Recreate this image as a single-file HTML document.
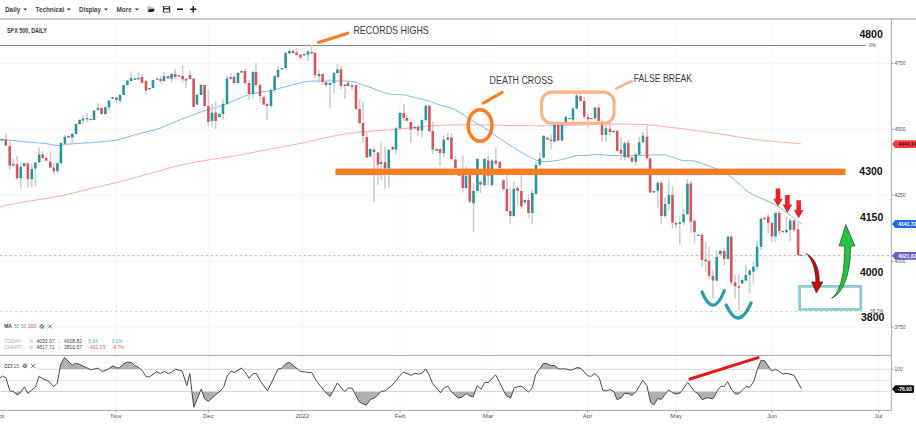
<!DOCTYPE html><html><head><meta charset="utf-8"><style>
html,body{margin:0;padding:0;background:#fff;width:916px;height:425px;overflow:hidden}
svg{position:absolute;left:0;top:0;font-family:"Liberation Sans", sans-serif}
</style></head><body>
<svg width="916" height="425" viewBox="0 0 916 425">
<text x="5" y="12.3" font-size="8" font-weight="bold" fill="#3f3f47" textLength="15.2" lengthAdjust="spacingAndGlyphs">Daily</text>
<path d="M23.2,8.5 L27.2,8.5 L25.2,10.6 Z" fill="#333"/>
<text x="35.5" y="12.3" font-size="8" font-weight="bold" fill="#3f3f47" textLength="28.7" lengthAdjust="spacingAndGlyphs">Technical</text>
<path d="M66.8,8.5 L70.8,8.5 L68.8,10.6 Z" fill="#333"/>
<text x="79" y="12.3" font-size="8" font-weight="bold" fill="#3f3f47" textLength="21.9" lengthAdjust="spacingAndGlyphs">Display</text>
<path d="M104.0,8.5 L108.0,8.5 L106.0,10.6 Z" fill="#333"/>
<text x="116.5" y="12.3" font-size="8" font-weight="bold" fill="#3f3f47" textLength="15.3" lengthAdjust="spacingAndGlyphs">More</text>
<path d="M134.9,8.5 L138.9,8.5 L136.9,10.6 Z" fill="#333"/>
<path d="M147.3,6.4 L150.2,6.4 L151,7.3 L153.6,7.3 L153.6,8.6 L149.2,8.6 L147.3,11.9 Z" fill="#bbb"/><path d="M149.3,8.7 L155,8.7 L153.3,11.9 L147.6,11.9 Z" fill="#2a2a2a"/>
<path d="M162.9,6.1 L169.4,6.1 L170.2,6.9 L170.2,12.5 L162.9,12.5 Z M164.4,6.4 L164.4,7.9 L168.6,7.9 L168.6,6.4 Z M164,9.4 L164,11.8 L169.1,11.8 L169.1,9.4 Z" fill="#333" fill-rule="evenodd"/>
<rect x="177" y="8.5" width="6" height="1.5" fill="#111"/>
<rect x="190.1" y="8.5" width="6.3" height="1.5" fill="#111"/><rect x="192.5" y="6.1" width="1.5" height="6.3" fill="#111"/>
<rect x="0" y="18.1" width="916" height="1.8" fill="#c6c6c6"/>
<line x1="116.5" y1="21" x2="116.5" y2="410" stroke="#f6f6f8" stroke-width="1"/>
<line x1="208.4" y1="21" x2="208.4" y2="410" stroke="#f6f6f8" stroke-width="1"/>
<line x1="302.3" y1="21" x2="302.3" y2="410" stroke="#f6f6f8" stroke-width="1"/>
<line x1="400" y1="21" x2="400" y2="410" stroke="#f6f6f8" stroke-width="1"/>
<line x1="488.1" y1="21" x2="488.1" y2="410" stroke="#f6f6f8" stroke-width="1"/>
<line x1="587.5" y1="21" x2="587.5" y2="410" stroke="#f6f6f8" stroke-width="1"/>
<line x1="676.2" y1="21" x2="676.2" y2="410" stroke="#f6f6f8" stroke-width="1"/>
<line x1="771.9" y1="21" x2="771.9" y2="410" stroke="#f6f6f8" stroke-width="1"/>
<line x1="878.7" y1="21" x2="878.7" y2="410" stroke="#f6f6f8" stroke-width="1"/>
<line x1="0" y1="63.4" x2="891" y2="63.4" stroke="#f5f5f7" stroke-width="1"/>
<line x1="0" y1="129.3" x2="891" y2="129.3" stroke="#f5f5f7" stroke-width="1"/>
<line x1="0" y1="195.2" x2="891" y2="195.2" stroke="#f5f5f7" stroke-width="1"/>
<line x1="0" y1="261.4" x2="891" y2="261.4" stroke="#f5f5f7" stroke-width="1"/>
<line x1="0" y1="327.2" x2="891" y2="327.2" stroke="#f5f5f7" stroke-width="1"/>
<text x="7" y="32.8" font-size="6.4" font-weight="bold" fill="#3a3a3a" textLength="39.8" lengthAdjust="spacingAndGlyphs">SPX 500, DAILY</text>
<line x1="0" y1="45.5" x2="866" y2="45.5" stroke="#858585" stroke-width="1"/>
<text x="869" y="46.8" font-size="4.8" fill="#555">0%</text>
<line x1="0" y1="311.4" x2="866" y2="311.4" stroke="#c8c8c8" stroke-width="0.8" stroke-dasharray="2.5,2.5"/>
<text x="870" y="312.8" font-size="4.8" fill="#555" textLength="13.5" lengthAdjust="spacingAndGlyphs">38.2%</text>
<line x1="0" y1="255.6" x2="891" y2="255.6" stroke="#b0a9e4" stroke-width="0.9" stroke-dasharray="2.2,2.7"/>
<path d="M0.0,206.6 C5.1,205.6 20.4,202.6 30.6,200.8 C40.8,199.0 51.0,198.0 61.2,195.9 C71.4,193.8 81.9,190.6 91.7,188.2 C101.5,185.8 110.2,184.2 120.0,181.7 C129.8,179.2 140.4,176.1 150.6,173.3 C160.8,170.5 171.0,167.2 181.2,164.9 C191.4,162.6 201.9,161.1 211.7,159.4 C221.5,157.8 230.2,156.8 240.0,155.0 C249.8,153.2 260.4,150.8 270.6,148.9 C280.8,147.0 291.0,145.4 301.2,143.3 C311.4,141.2 321.9,138.3 331.7,136.4 C341.5,134.5 349.0,133.3 360.0,132.1 C371.0,130.9 385.4,130.3 397.6,129.2 C409.8,128.1 420.9,126.3 433.0,125.6 C445.1,124.9 456.8,124.8 470.0,124.8 C483.2,124.8 499.0,125.3 512.3,125.5 C525.6,125.7 534.3,126.0 550.0,125.8 C565.7,125.6 593.4,124.5 606.4,124.2 C619.4,123.9 621.5,124.1 628.2,124.2 C634.9,124.3 640.4,124.2 646.8,124.7 C653.2,125.2 659.2,126.1 666.4,126.9 C673.6,127.7 683.9,128.9 690.0,129.7 C696.1,130.5 696.9,130.6 702.9,131.5 C708.9,132.4 718.2,133.7 725.9,134.9 C733.5,136.1 741.2,137.6 748.8,138.7 C756.4,139.8 763.1,140.5 771.7,141.3 C780.4,142.1 795.9,143.3 800.7,143.7" fill="none" stroke="#f8aea9" stroke-width="1"/>
<path d="M0.0,139.8 C1.4,139.8 4.3,139.6 8.7,140.0 C13.1,140.4 20.4,141.4 26.2,142.0 C32.0,142.6 38.4,142.7 43.7,143.3 C49.0,143.9 54.4,145.3 58.0,145.5 C61.6,145.7 61.8,144.8 65.5,144.4 C69.2,144.0 74.0,143.7 80.0,143.3 C86.0,142.9 95.0,142.4 101.2,141.8 C107.4,141.2 111.7,141.1 117.0,140.0 C122.3,138.9 127.6,136.9 132.9,135.4 C138.2,133.9 144.3,132.4 148.8,131.2 C153.3,130.0 154.6,130.3 160.0,128.3 C165.4,126.3 174.1,122.2 181.2,119.4 C188.2,116.6 195.2,113.9 202.3,111.5 C209.4,109.1 217.2,107.3 223.5,105.1 C229.8,102.8 235.5,99.8 240.0,98.0 C244.5,96.2 247.1,95.3 250.6,94.3 C254.1,93.3 257.7,92.8 261.2,92.2 C264.7,91.6 268.2,91.4 271.7,90.6 C275.2,89.8 278.8,88.5 282.3,87.5 C285.8,86.5 289.4,85.7 292.9,84.8 C296.4,83.9 300.0,82.8 303.5,82.2 C307.0,81.6 308.7,81.3 314.1,81.1 C319.5,80.9 329.6,80.9 335.9,80.9 C342.2,81.0 347.3,80.8 351.7,81.4 C356.1,82.0 358.8,83.4 362.3,84.6 C365.8,85.8 369.4,87.0 372.9,88.3 C376.4,89.6 380.0,91.5 383.5,92.5 C387.0,93.5 390.8,94.2 394.1,94.6 C397.4,95.0 400.8,94.4 403.5,94.7 C406.2,95.0 407.9,95.8 410.6,96.5 C413.4,97.2 416.9,98.0 420.0,98.8 C423.1,99.6 426.3,100.2 429.4,101.2 C432.5,102.2 435.3,103.6 438.8,104.7 C442.3,105.8 447.1,106.7 450.6,108.0 C454.1,109.3 456.8,110.7 460.0,112.6 C463.2,114.5 466.0,116.7 470.0,119.2 C474.0,121.7 479.4,124.5 484.1,127.6 C488.8,130.7 493.5,134.3 498.2,137.5 C502.9,140.7 507.6,143.8 512.3,146.7 C517.0,149.6 522.4,153.0 526.4,155.2 C530.4,157.4 533.5,159.0 536.3,160.1 C539.1,161.2 541.1,161.3 543.4,161.5 C545.7,161.7 547.3,161.6 550.0,161.3 C552.7,161.1 556.5,160.7 559.8,160.0 C563.1,159.3 566.6,158.2 569.6,157.4 C572.6,156.6 574.5,155.7 577.5,155.4 C580.5,155.1 584.0,155.6 587.3,155.4 C590.6,155.2 593.6,154.4 597.2,154.4 C600.8,154.4 604.5,155.2 608.9,155.4 C613.3,155.6 618.5,155.6 623.7,155.6 C628.9,155.6 634.0,155.5 640.0,155.4 C646.0,155.3 655.2,154.7 660.0,154.8 C664.8,154.9 664.7,154.9 668.5,155.8 C672.3,156.8 678.4,159.7 682.6,160.5 C686.8,161.3 690.1,160.2 693.9,160.9 C697.6,161.6 701.4,163.4 705.1,164.7 C708.9,166.0 712.4,167.1 716.4,168.9 C720.4,170.7 725.3,172.8 729.1,175.3 C732.9,177.8 735.5,180.8 739.0,183.7 C742.5,186.6 743.5,189.1 750.0,192.9 C756.5,196.7 769.4,201.2 778.0,206.4 C786.6,211.6 797.6,221.2 801.5,224.2" fill="none" stroke="#7fb8ec" stroke-width="1"/>
<line x1="2.1" y1="139.0" x2="2.1" y2="140.5" stroke="#cfcfcf" stroke-width="1.6"/>
<rect x="0.8" y="139.0" width="2.6" height="1.5" fill="#2895a3"/>
<line x1="5.8" y1="133.2" x2="5.8" y2="145.6" stroke="#cfcfcf" stroke-width="1.6"/>
<rect x="4.5" y="139.4" width="2.6" height="6.2" fill="#d2565d"/>
<line x1="9.7" y1="142.0" x2="9.7" y2="169.4" stroke="#cfcfcf" stroke-width="1.6"/>
<rect x="8.4" y="146.1" width="2.6" height="19.4" fill="#d2565d"/>
<line x1="13.2" y1="158.8" x2="13.2" y2="166.8" stroke="#cfcfcf" stroke-width="1.6"/>
<rect x="11.9" y="164.0" width="2.6" height="1.5" fill="#2895a3"/>
<line x1="17.1" y1="156.2" x2="17.1" y2="180.0" stroke="#cfcfcf" stroke-width="1.6"/>
<rect x="15.8" y="164.1" width="2.6" height="14.1" fill="#d2565d"/>
<line x1="20.8" y1="162.4" x2="20.8" y2="188.8" stroke="#cfcfcf" stroke-width="1.6"/>
<rect x="19.5" y="166.8" width="2.6" height="11.4" fill="#2895a3"/>
<line x1="24.2" y1="162.4" x2="24.2" y2="166.8" stroke="#cfcfcf" stroke-width="1.6"/>
<rect x="22.9" y="163.2" width="2.6" height="3.0" fill="#2895a3"/>
<line x1="27.9" y1="162.4" x2="27.9" y2="187.5" stroke="#cfcfcf" stroke-width="1.6"/>
<rect x="26.6" y="163.2" width="2.6" height="15.9" fill="#d2565d"/>
<line x1="31.8" y1="163.2" x2="31.8" y2="187.0" stroke="#cfcfcf" stroke-width="1.6"/>
<rect x="30.5" y="169.0" width="2.6" height="10.1" fill="#2895a3"/>
<line x1="35.3" y1="162.0" x2="35.3" y2="186.0" stroke="#cfcfcf" stroke-width="1.6"/>
<rect x="34.0" y="162.4" width="2.6" height="6.1" fill="#2895a3"/>
<line x1="39.2" y1="147.4" x2="39.2" y2="162.4" stroke="#cfcfcf" stroke-width="1.6"/>
<rect x="37.9" y="154.4" width="2.6" height="8.0" fill="#2895a3"/>
<line x1="42.7" y1="151.0" x2="42.7" y2="159.0" stroke="#cfcfcf" stroke-width="1.6"/>
<rect x="41.4" y="154.4" width="2.6" height="3.6" fill="#d2565d"/>
<line x1="46.2" y1="156.2" x2="46.2" y2="161.5" stroke="#cfcfcf" stroke-width="1.6"/>
<rect x="44.9" y="157.9" width="2.6" height="2.7" fill="#d2565d"/>
<line x1="50.3" y1="151.4" x2="50.3" y2="168.0" stroke="#cfcfcf" stroke-width="1.6"/>
<rect x="49.0" y="161.8" width="2.6" height="5.8" fill="#d2565d"/>
<line x1="53.8" y1="162.4" x2="53.8" y2="174.7" stroke="#cfcfcf" stroke-width="1.6"/>
<rect x="52.5" y="167.6" width="2.6" height="3.6" fill="#d2565d"/>
<line x1="57.4" y1="162.4" x2="57.4" y2="173.8" stroke="#cfcfcf" stroke-width="1.6"/>
<rect x="56.1" y="163.2" width="2.6" height="8.0" fill="#2895a3"/>
<line x1="60.9" y1="143.0" x2="60.9" y2="163.2" stroke="#cfcfcf" stroke-width="1.6"/>
<rect x="59.6" y="143.0" width="2.6" height="20.2" fill="#2895a3"/>
<line x1="64.9" y1="135.0" x2="64.9" y2="145.6" stroke="#cfcfcf" stroke-width="1.6"/>
<rect x="63.6" y="136.8" width="2.6" height="7.0" fill="#2895a3"/>
<line x1="68.5" y1="135.9" x2="68.5" y2="137.6" stroke="#cfcfcf" stroke-width="1.6"/>
<rect x="67.2" y="135.9" width="2.6" height="1.7" fill="#d2565d"/>
<line x1="72.3" y1="133.2" x2="72.3" y2="143.8" stroke="#cfcfcf" stroke-width="1.6"/>
<rect x="71.0" y="133.8" width="2.6" height="3.8" fill="#2895a3"/>
<line x1="76.0" y1="123.0" x2="76.0" y2="134.0" stroke="#cfcfcf" stroke-width="1.6"/>
<rect x="74.7" y="124.0" width="2.6" height="10.0" fill="#2895a3"/>
<line x1="79.6" y1="119.0" x2="79.6" y2="125.0" stroke="#cfcfcf" stroke-width="1.6"/>
<rect x="78.3" y="120.0" width="2.6" height="4.0" fill="#2895a3"/>
<line x1="83.0" y1="115.0" x2="83.0" y2="124.0" stroke="#cfcfcf" stroke-width="1.6"/>
<rect x="81.7" y="118.6" width="2.6" height="2.0" fill="#2895a3"/>
<line x1="87.0" y1="113.0" x2="87.0" y2="122.6" stroke="#cfcfcf" stroke-width="1.6"/>
<rect x="85.7" y="118.0" width="2.6" height="1.2" fill="#2895a3"/>
<line x1="90.6" y1="119.0" x2="90.6" y2="120.2" stroke="#cfcfcf" stroke-width="1.6"/>
<rect x="89.3" y="119.0" width="2.6" height="1.2" fill="#d2565d"/>
<line x1="94.0" y1="110.0" x2="94.0" y2="120.0" stroke="#cfcfcf" stroke-width="1.6"/>
<rect x="92.7" y="110.6" width="2.6" height="9.4" fill="#2895a3"/>
<line x1="98.0" y1="103.0" x2="98.0" y2="111.0" stroke="#cfcfcf" stroke-width="1.6"/>
<rect x="96.7" y="108.0" width="2.6" height="2.0" fill="#2895a3"/>
<line x1="101.6" y1="107.4" x2="101.6" y2="115.0" stroke="#cfcfcf" stroke-width="1.6"/>
<rect x="100.3" y="108.0" width="2.6" height="6.0" fill="#d2565d"/>
<line x1="105.4" y1="106.0" x2="105.4" y2="115.0" stroke="#cfcfcf" stroke-width="1.6"/>
<rect x="104.1" y="107.4" width="2.6" height="6.6" fill="#2895a3"/>
<line x1="109.0" y1="100.0" x2="109.0" y2="111.0" stroke="#cfcfcf" stroke-width="1.6"/>
<rect x="107.7" y="100.6" width="2.6" height="6.8" fill="#2895a3"/>
<line x1="112.6" y1="97.4" x2="112.6" y2="99.0" stroke="#cfcfcf" stroke-width="1.6"/>
<rect x="111.3" y="97.4" width="2.6" height="1.6" fill="#2895a3"/>
<line x1="116.4" y1="97.0" x2="116.4" y2="103.0" stroke="#cfcfcf" stroke-width="1.6"/>
<rect x="115.1" y="97.4" width="2.6" height="2.6" fill="#d2565d"/>
<line x1="120.0" y1="94.0" x2="120.0" y2="103.0" stroke="#cfcfcf" stroke-width="1.6"/>
<rect x="118.7" y="95.0" width="2.6" height="5.6" fill="#2895a3"/>
<line x1="123.6" y1="85.0" x2="123.6" y2="95.0" stroke="#cfcfcf" stroke-width="1.6"/>
<rect x="122.3" y="85.0" width="2.6" height="10.0" fill="#2895a3"/>
<line x1="127.4" y1="80.0" x2="127.4" y2="85.5" stroke="#cfcfcf" stroke-width="1.6"/>
<rect x="126.1" y="80.6" width="2.6" height="4.4" fill="#2895a3"/>
<line x1="131.0" y1="71.4" x2="131.0" y2="81.0" stroke="#cfcfcf" stroke-width="1.6"/>
<rect x="129.7" y="78.0" width="2.6" height="3.0" fill="#2895a3"/>
<line x1="135.0" y1="78.6" x2="135.0" y2="80.0" stroke="#cfcfcf" stroke-width="1.6"/>
<rect x="133.7" y="78.6" width="2.6" height="1.4" fill="#2895a3"/>
<line x1="138.6" y1="72.0" x2="138.6" y2="80.0" stroke="#cfcfcf" stroke-width="1.6"/>
<rect x="137.3" y="78.0" width="2.6" height="1.2" fill="#2895a3"/>
<line x1="142.0" y1="74.0" x2="142.0" y2="83.0" stroke="#cfcfcf" stroke-width="1.6"/>
<rect x="140.7" y="77.0" width="2.6" height="6.0" fill="#d2565d"/>
<line x1="146.0" y1="80.0" x2="146.0" y2="94.0" stroke="#cfcfcf" stroke-width="1.6"/>
<rect x="144.7" y="81.0" width="2.6" height="9.6" fill="#d2565d"/>
<line x1="149.4" y1="88.0" x2="149.4" y2="89.4" stroke="#cfcfcf" stroke-width="1.6"/>
<rect x="148.1" y="88.0" width="2.6" height="1.4" fill="#2895a3"/>
<line x1="153.0" y1="80.0" x2="153.0" y2="88.5" stroke="#cfcfcf" stroke-width="1.6"/>
<rect x="151.7" y="80.0" width="2.6" height="8.0" fill="#2895a3"/>
<line x1="157.0" y1="78.6" x2="157.0" y2="79.6" stroke="#cfcfcf" stroke-width="1.6"/>
<rect x="155.7" y="78.6" width="2.6" height="1.2" fill="#2895a3"/>
<line x1="160.6" y1="76.0" x2="160.6" y2="83.0" stroke="#cfcfcf" stroke-width="1.6"/>
<rect x="159.3" y="79.0" width="2.6" height="2.0" fill="#d2565d"/>
<line x1="164.0" y1="72.0" x2="164.0" y2="82.0" stroke="#cfcfcf" stroke-width="1.6"/>
<rect x="162.7" y="76.0" width="2.6" height="5.0" fill="#2895a3"/>
<line x1="168.0" y1="76.0" x2="168.0" y2="78.6" stroke="#cfcfcf" stroke-width="1.6"/>
<rect x="166.7" y="76.0" width="2.6" height="2.6" fill="#d2565d"/>
<line x1="171.6" y1="73.0" x2="171.6" y2="83.0" stroke="#cfcfcf" stroke-width="1.6"/>
<rect x="170.3" y="74.0" width="2.6" height="4.6" fill="#2895a3"/>
<line x1="175.2" y1="69.0" x2="175.2" y2="79.0" stroke="#cfcfcf" stroke-width="1.6"/>
<rect x="173.9" y="74.0" width="2.6" height="3.0" fill="#d2565d"/>
<line x1="179.0" y1="75.0" x2="179.0" y2="76.6" stroke="#cfcfcf" stroke-width="1.6"/>
<rect x="177.7" y="75.0" width="2.6" height="1.6" fill="#d2565d"/>
<line x1="182.6" y1="65.0" x2="182.6" y2="82.0" stroke="#cfcfcf" stroke-width="1.6"/>
<rect x="181.3" y="76.0" width="2.6" height="3.4" fill="#d2565d"/>
<line x1="186.0" y1="78.0" x2="186.0" y2="88.0" stroke="#cfcfcf" stroke-width="1.6"/>
<rect x="184.7" y="79.0" width="2.6" height="1.6" fill="#d2565d"/>
<line x1="190.0" y1="70.6" x2="190.0" y2="79.0" stroke="#cfcfcf" stroke-width="1.6"/>
<rect x="188.7" y="75.0" width="2.6" height="4.0" fill="#d2565d"/>
<line x1="193.6" y1="78.6" x2="193.6" y2="107.0" stroke="#cfcfcf" stroke-width="1.6"/>
<rect x="192.3" y="78.6" width="2.6" height="28.4" fill="#d2565d"/>
<line x1="197.0" y1="94.0" x2="197.0" y2="105.0" stroke="#cfcfcf" stroke-width="1.6"/>
<rect x="195.7" y="95.0" width="2.6" height="9.6" fill="#2895a3"/>
<line x1="201.0" y1="84.0" x2="201.0" y2="95.0" stroke="#cfcfcf" stroke-width="1.6"/>
<rect x="199.7" y="85.0" width="2.6" height="10.0" fill="#2895a3"/>
<line x1="204.6" y1="85.0" x2="204.6" y2="107.0" stroke="#cfcfcf" stroke-width="1.6"/>
<rect x="203.3" y="85.0" width="2.6" height="21.0" fill="#d2565d"/>
<line x1="208.4" y1="89.0" x2="208.4" y2="127.0" stroke="#cfcfcf" stroke-width="1.6"/>
<rect x="207.1" y="106.0" width="2.6" height="16.0" fill="#d2565d"/>
<line x1="212.0" y1="104.0" x2="212.0" y2="127.0" stroke="#cfcfcf" stroke-width="1.6"/>
<rect x="210.7" y="112.6" width="2.6" height="8.4" fill="#2895a3"/>
<line x1="215.6" y1="101.0" x2="215.6" y2="129.0" stroke="#cfcfcf" stroke-width="1.6"/>
<rect x="214.3" y="112.6" width="2.6" height="8.4" fill="#d2565d"/>
<line x1="219.4" y1="113.0" x2="219.4" y2="118.0" stroke="#cfcfcf" stroke-width="1.6"/>
<rect x="218.1" y="114.0" width="2.6" height="3.0" fill="#2895a3"/>
<line x1="223.0" y1="99.0" x2="223.0" y2="120.0" stroke="#cfcfcf" stroke-width="1.6"/>
<rect x="221.7" y="104.0" width="2.6" height="10.0" fill="#2895a3"/>
<line x1="227.0" y1="76.0" x2="227.0" y2="105.0" stroke="#cfcfcf" stroke-width="1.6"/>
<rect x="225.7" y="78.6" width="2.6" height="25.4" fill="#2895a3"/>
<line x1="230.6" y1="73.0" x2="230.6" y2="80.0" stroke="#cfcfcf" stroke-width="1.6"/>
<rect x="229.3" y="77.0" width="2.6" height="1.6" fill="#2895a3"/>
<line x1="234.0" y1="75.0" x2="234.0" y2="85.0" stroke="#cfcfcf" stroke-width="1.6"/>
<rect x="232.7" y="77.0" width="2.6" height="6.0" fill="#d2565d"/>
<line x1="238.0" y1="72.0" x2="238.0" y2="84.0" stroke="#cfcfcf" stroke-width="1.6"/>
<rect x="236.7" y="73.0" width="2.6" height="10.0" fill="#2895a3"/>
<line x1="241.6" y1="71.0" x2="241.6" y2="72.6" stroke="#cfcfcf" stroke-width="1.6"/>
<rect x="240.3" y="71.0" width="2.6" height="1.6" fill="#2895a3"/>
<line x1="245.0" y1="68.0" x2="245.0" y2="85.0" stroke="#cfcfcf" stroke-width="1.6"/>
<rect x="243.7" y="71.0" width="2.6" height="12.0" fill="#d2565d"/>
<line x1="249.0" y1="80.0" x2="249.0" y2="100.0" stroke="#cfcfcf" stroke-width="1.6"/>
<rect x="247.7" y="83.0" width="2.6" height="11.0" fill="#d2565d"/>
<line x1="253.0" y1="71.0" x2="253.0" y2="99.0" stroke="#cfcfcf" stroke-width="1.6"/>
<rect x="251.7" y="72.0" width="2.6" height="22.0" fill="#2895a3"/>
<line x1="256.0" y1="63.0" x2="256.0" y2="87.0" stroke="#cfcfcf" stroke-width="1.6"/>
<rect x="254.7" y="72.0" width="2.6" height="13.0" fill="#d2565d"/>
<line x1="260.0" y1="83.0" x2="260.0" y2="103.0" stroke="#cfcfcf" stroke-width="1.6"/>
<rect x="258.7" y="85.0" width="2.6" height="11.0" fill="#d2565d"/>
<line x1="263.6" y1="96.0" x2="263.6" y2="105.0" stroke="#cfcfcf" stroke-width="1.6"/>
<rect x="262.3" y="97.0" width="2.6" height="7.6" fill="#d2565d"/>
<line x1="267.0" y1="103.0" x2="267.0" y2="120.0" stroke="#cfcfcf" stroke-width="1.6"/>
<rect x="265.7" y="104.0" width="2.6" height="2.0" fill="#d2565d"/>
<line x1="271.0" y1="89.0" x2="271.0" y2="108.0" stroke="#cfcfcf" stroke-width="1.6"/>
<rect x="269.7" y="90.0" width="2.6" height="16.0" fill="#2895a3"/>
<line x1="274.6" y1="75.0" x2="274.6" y2="93.0" stroke="#cfcfcf" stroke-width="1.6"/>
<rect x="273.3" y="76.0" width="2.6" height="14.0" fill="#2895a3"/>
<line x1="278.0" y1="66.0" x2="278.0" y2="78.0" stroke="#cfcfcf" stroke-width="1.6"/>
<rect x="276.7" y="70.0" width="2.6" height="7.0" fill="#2895a3"/>
<line x1="282.0" y1="68.0" x2="282.0" y2="69.4" stroke="#cfcfcf" stroke-width="1.6"/>
<rect x="280.7" y="68.0" width="2.6" height="1.4" fill="#2895a3"/>
<line x1="285.6" y1="52.0" x2="285.6" y2="70.0" stroke="#cfcfcf" stroke-width="1.6"/>
<rect x="284.3" y="53.0" width="2.6" height="15.0" fill="#2895a3"/>
<line x1="289.4" y1="48.6" x2="289.4" y2="54.0" stroke="#cfcfcf" stroke-width="1.6"/>
<rect x="288.1" y="51.0" width="2.6" height="2.4" fill="#2895a3"/>
<line x1="293.0" y1="49.0" x2="293.0" y2="54.0" stroke="#cfcfcf" stroke-width="1.6"/>
<rect x="291.7" y="51.0" width="2.6" height="2.0" fill="#d2565d"/>
<line x1="296.6" y1="48.0" x2="296.6" y2="56.0" stroke="#cfcfcf" stroke-width="1.6"/>
<rect x="295.3" y="52.6" width="2.6" height="2.4" fill="#d2565d"/>
<line x1="300.4" y1="54.0" x2="300.4" y2="60.0" stroke="#cfcfcf" stroke-width="1.6"/>
<rect x="299.1" y="54.6" width="2.6" height="2.8" fill="#d2565d"/>
<line x1="304.0" y1="54.0" x2="304.0" y2="55.4" stroke="#cfcfcf" stroke-width="1.6"/>
<rect x="302.7" y="54.0" width="2.6" height="1.4" fill="#2895a3"/>
<line x1="308.0" y1="50.0" x2="308.0" y2="61.0" stroke="#cfcfcf" stroke-width="1.6"/>
<rect x="306.7" y="51.4" width="2.6" height="3.2" fill="#2895a3"/>
<line x1="311.6" y1="45.0" x2="311.6" y2="54.0" stroke="#cfcfcf" stroke-width="1.6"/>
<rect x="310.3" y="52.0" width="2.6" height="1.4" fill="#d2565d"/>
<line x1="315.0" y1="52.0" x2="315.0" y2="78.0" stroke="#cfcfcf" stroke-width="1.6"/>
<rect x="313.7" y="53.0" width="2.6" height="22.0" fill="#d2565d"/>
<line x1="319.0" y1="70.0" x2="319.0" y2="83.0" stroke="#cfcfcf" stroke-width="1.6"/>
<rect x="317.7" y="74.0" width="2.6" height="2.0" fill="#2895a3"/>
<line x1="322.6" y1="73.0" x2="322.6" y2="85.0" stroke="#cfcfcf" stroke-width="1.6"/>
<rect x="321.3" y="74.0" width="2.6" height="8.0" fill="#d2565d"/>
<line x1="326.0" y1="81.0" x2="326.0" y2="87.0" stroke="#cfcfcf" stroke-width="1.6"/>
<rect x="324.7" y="82.0" width="2.6" height="3.0" fill="#d2565d"/>
<line x1="330.0" y1="79.0" x2="330.0" y2="108.0" stroke="#cfcfcf" stroke-width="1.6"/>
<rect x="328.7" y="83.0" width="2.6" height="2.0" fill="#2895a3"/>
<line x1="334.0" y1="72.0" x2="334.0" y2="93.0" stroke="#cfcfcf" stroke-width="1.6"/>
<rect x="332.7" y="73.0" width="2.6" height="10.0" fill="#2895a3"/>
<line x1="337.4" y1="64.0" x2="337.4" y2="74.0" stroke="#cfcfcf" stroke-width="1.6"/>
<rect x="336.1" y="69.4" width="2.6" height="3.6" fill="#2895a3"/>
<line x1="341.0" y1="65.0" x2="341.0" y2="89.0" stroke="#cfcfcf" stroke-width="1.6"/>
<rect x="339.7" y="69.4" width="2.6" height="16.6" fill="#d2565d"/>
<line x1="345.0" y1="84.0" x2="345.0" y2="99.0" stroke="#cfcfcf" stroke-width="1.6"/>
<rect x="343.7" y="84.6" width="2.6" height="1.4" fill="#2895a3"/>
<line x1="348.0" y1="82.0" x2="348.0" y2="86.0" stroke="#cfcfcf" stroke-width="1.6"/>
<rect x="346.7" y="82.6" width="2.6" height="3.4" fill="#d2565d"/>
<line x1="352.0" y1="84.0" x2="352.0" y2="90.0" stroke="#cfcfcf" stroke-width="1.6"/>
<rect x="350.7" y="85.4" width="2.6" height="1.6" fill="#2895a3"/>
<line x1="356.0" y1="84.0" x2="356.0" y2="110.0" stroke="#cfcfcf" stroke-width="1.6"/>
<rect x="354.7" y="85.0" width="2.6" height="24.0" fill="#d2565d"/>
<line x1="359.6" y1="99.0" x2="359.6" y2="124.0" stroke="#cfcfcf" stroke-width="1.6"/>
<rect x="358.3" y="109.0" width="2.6" height="14.0" fill="#d2565d"/>
<line x1="363.0" y1="102.0" x2="363.0" y2="142.7" stroke="#cfcfcf" stroke-width="1.6"/>
<rect x="361.7" y="123.0" width="2.6" height="13.0" fill="#d2565d"/>
<line x1="366.8" y1="131.0" x2="366.8" y2="158.0" stroke="#cfcfcf" stroke-width="1.6"/>
<rect x="365.5" y="137.0" width="2.6" height="20.4" fill="#d2565d"/>
<line x1="370.2" y1="148.0" x2="370.2" y2="157.0" stroke="#cfcfcf" stroke-width="1.6"/>
<rect x="368.9" y="149.0" width="2.6" height="7.4" fill="#2895a3"/>
<line x1="374.0" y1="146.5" x2="374.0" y2="202.0" stroke="#cfcfcf" stroke-width="1.6"/>
<rect x="372.7" y="149.6" width="2.6" height="2.4" fill="#d2565d"/>
<line x1="378.0" y1="151.7" x2="378.0" y2="185.0" stroke="#cfcfcf" stroke-width="1.6"/>
<rect x="376.7" y="152.5" width="2.6" height="12.2" fill="#d2565d"/>
<line x1="381.0" y1="141.0" x2="381.0" y2="180.0" stroke="#cfcfcf" stroke-width="1.6"/>
<rect x="379.7" y="162.0" width="2.6" height="2.0" fill="#2895a3"/>
<line x1="385.0" y1="146.5" x2="385.0" y2="189.0" stroke="#cfcfcf" stroke-width="1.6"/>
<rect x="383.7" y="162.0" width="2.6" height="6.5" fill="#d2565d"/>
<line x1="388.8" y1="149.0" x2="388.8" y2="188.0" stroke="#cfcfcf" stroke-width="1.6"/>
<rect x="387.5" y="150.0" width="2.6" height="18.5" fill="#2895a3"/>
<line x1="392.7" y1="146.0" x2="392.7" y2="150.0" stroke="#cfcfcf" stroke-width="1.6"/>
<rect x="391.4" y="147.0" width="2.6" height="2.6" fill="#d2565d"/>
<line x1="396.0" y1="127.0" x2="396.0" y2="154.0" stroke="#cfcfcf" stroke-width="1.6"/>
<rect x="394.7" y="128.4" width="2.6" height="21.2" fill="#2895a3"/>
<line x1="400.0" y1="111.6" x2="400.0" y2="129.7" stroke="#cfcfcf" stroke-width="1.6"/>
<rect x="398.7" y="113.0" width="2.6" height="15.4" fill="#2895a3"/>
<line x1="403.8" y1="104.0" x2="403.8" y2="120.7" stroke="#cfcfcf" stroke-width="1.6"/>
<rect x="402.5" y="113.0" width="2.6" height="5.0" fill="#d2565d"/>
<line x1="406.9" y1="115.0" x2="406.9" y2="121.0" stroke="#cfcfcf" stroke-width="1.6"/>
<rect x="405.6" y="118.0" width="2.6" height="2.7" fill="#d2565d"/>
<line x1="410.8" y1="120.7" x2="410.8" y2="142.7" stroke="#cfcfcf" stroke-width="1.6"/>
<rect x="409.5" y="122.0" width="2.6" height="7.7" fill="#d2565d"/>
<line x1="414.6" y1="126.0" x2="414.6" y2="129.0" stroke="#cfcfcf" stroke-width="1.6"/>
<rect x="413.3" y="127.0" width="2.6" height="1.4" fill="#2895a3"/>
<line x1="418.0" y1="124.6" x2="418.0" y2="136.0" stroke="#cfcfcf" stroke-width="1.6"/>
<rect x="416.7" y="127.0" width="2.6" height="3.5" fill="#d2565d"/>
<line x1="421.9" y1="119.4" x2="421.9" y2="137.5" stroke="#cfcfcf" stroke-width="1.6"/>
<rect x="420.6" y="120.0" width="2.6" height="10.5" fill="#2895a3"/>
<line x1="425.8" y1="105.0" x2="425.8" y2="122.0" stroke="#cfcfcf" stroke-width="1.6"/>
<rect x="424.5" y="105.7" width="2.6" height="14.3" fill="#2895a3"/>
<line x1="429.4" y1="105.0" x2="429.4" y2="132.3" stroke="#cfcfcf" stroke-width="1.6"/>
<rect x="428.1" y="105.7" width="2.6" height="25.3" fill="#d2565d"/>
<line x1="432.8" y1="122.0" x2="432.8" y2="154.3" stroke="#cfcfcf" stroke-width="1.6"/>
<rect x="431.5" y="131.0" width="2.6" height="18.6" fill="#d2565d"/>
<line x1="436.7" y1="148.0" x2="436.7" y2="151.0" stroke="#cfcfcf" stroke-width="1.6"/>
<rect x="435.4" y="149.0" width="2.6" height="1.7" fill="#2895a3"/>
<line x1="440.0" y1="148.0" x2="440.0" y2="166.6" stroke="#cfcfcf" stroke-width="1.6"/>
<rect x="438.7" y="149.0" width="2.6" height="4.0" fill="#d2565d"/>
<line x1="443.8" y1="136.0" x2="443.8" y2="157.4" stroke="#cfcfcf" stroke-width="1.6"/>
<rect x="442.5" y="139.7" width="2.6" height="13.3" fill="#2895a3"/>
<line x1="447.8" y1="133.0" x2="447.8" y2="140.6" stroke="#cfcfcf" stroke-width="1.6"/>
<rect x="446.5" y="137.5" width="2.6" height="2.2" fill="#2895a3"/>
<line x1="451.4" y1="133.0" x2="451.4" y2="160.5" stroke="#cfcfcf" stroke-width="1.6"/>
<rect x="450.1" y="137.5" width="2.6" height="21.5" fill="#d2565d"/>
<line x1="455.4" y1="156.0" x2="455.4" y2="169.7" stroke="#cfcfcf" stroke-width="1.6"/>
<rect x="454.1" y="159.6" width="2.6" height="8.4" fill="#d2565d"/>
<line x1="459.0" y1="172.0" x2="459.0" y2="176.0" stroke="#cfcfcf" stroke-width="1.6"/>
<rect x="457.7" y="172.7" width="2.6" height="3.1" fill="#d2565d"/>
<line x1="462.8" y1="156.0" x2="462.8" y2="192.6" stroke="#cfcfcf" stroke-width="1.6"/>
<rect x="461.5" y="174.0" width="2.6" height="14.0" fill="#d2565d"/>
<line x1="466.0" y1="166.6" x2="466.0" y2="189.6" stroke="#cfcfcf" stroke-width="1.6"/>
<rect x="464.7" y="175.8" width="2.6" height="12.2" fill="#2895a3"/>
<line x1="469.8" y1="172.7" x2="469.8" y2="203.4" stroke="#cfcfcf" stroke-width="1.6"/>
<rect x="468.5" y="174.0" width="2.6" height="27.8" fill="#d2565d"/>
<line x1="473.5" y1="183.5" x2="473.5" y2="232.4" stroke="#cfcfcf" stroke-width="1.6"/>
<rect x="472.2" y="191.0" width="2.6" height="12.4" fill="#2895a3"/>
<line x1="477.4" y1="158.4" x2="477.4" y2="193.0" stroke="#cfcfcf" stroke-width="1.6"/>
<rect x="476.1" y="159.0" width="2.6" height="32.0" fill="#2895a3"/>
<line x1="480.5" y1="180.0" x2="480.5" y2="193.0" stroke="#cfcfcf" stroke-width="1.6"/>
<rect x="479.2" y="182.0" width="2.6" height="2.5" fill="#d2565d"/>
<line x1="484.5" y1="157.4" x2="484.5" y2="186.5" stroke="#cfcfcf" stroke-width="1.6"/>
<rect x="483.2" y="159.0" width="2.6" height="26.0" fill="#2895a3"/>
<line x1="488.2" y1="156.0" x2="488.2" y2="185.0" stroke="#cfcfcf" stroke-width="1.6"/>
<rect x="486.9" y="160.5" width="2.6" height="15.3" fill="#d2565d"/>
<line x1="492.0" y1="159.0" x2="492.0" y2="186.5" stroke="#cfcfcf" stroke-width="1.6"/>
<rect x="490.7" y="160.5" width="2.6" height="24.5" fill="#2895a3"/>
<line x1="495.8" y1="148.0" x2="495.8" y2="165.0" stroke="#cfcfcf" stroke-width="1.6"/>
<rect x="494.5" y="160.5" width="2.6" height="3.1" fill="#d2565d"/>
<line x1="499.8" y1="161.0" x2="499.8" y2="169.0" stroke="#cfcfcf" stroke-width="1.6"/>
<rect x="498.5" y="162.0" width="2.6" height="6.0" fill="#d2565d"/>
<line x1="503.5" y1="179.0" x2="503.5" y2="191.0" stroke="#cfcfcf" stroke-width="1.6"/>
<rect x="502.2" y="180.4" width="2.6" height="8.6" fill="#d2565d"/>
<line x1="506.9" y1="175.0" x2="506.9" y2="212.0" stroke="#cfcfcf" stroke-width="1.6"/>
<rect x="505.6" y="189.0" width="2.6" height="22.0" fill="#d2565d"/>
<line x1="510.3" y1="187.7" x2="510.3" y2="223.4" stroke="#cfcfcf" stroke-width="1.6"/>
<rect x="509.0" y="211.0" width="2.6" height="5.0" fill="#d2565d"/>
<line x1="513.8" y1="182.0" x2="513.8" y2="217.0" stroke="#cfcfcf" stroke-width="1.6"/>
<rect x="512.5" y="188.6" width="2.6" height="27.4" fill="#2895a3"/>
<line x1="517.6" y1="186.7" x2="517.6" y2="205.5" stroke="#cfcfcf" stroke-width="1.6"/>
<rect x="516.3" y="187.7" width="2.6" height="3.3" fill="#d2565d"/>
<line x1="521.4" y1="175.4" x2="521.4" y2="208.4" stroke="#cfcfcf" stroke-width="1.6"/>
<rect x="520.1" y="191.0" width="2.6" height="15.5" fill="#d2565d"/>
<line x1="524.8" y1="199.0" x2="524.8" y2="204.6" stroke="#cfcfcf" stroke-width="1.6"/>
<rect x="523.5" y="200.0" width="2.6" height="2.3" fill="#2895a3"/>
<line x1="528.5" y1="194.0" x2="528.5" y2="217.8" stroke="#cfcfcf" stroke-width="1.6"/>
<rect x="527.2" y="200.0" width="2.6" height="13.0" fill="#d2565d"/>
<line x1="532.3" y1="189.5" x2="532.3" y2="224.4" stroke="#cfcfcf" stroke-width="1.6"/>
<rect x="531.0" y="193.0" width="2.6" height="20.0" fill="#2895a3"/>
<line x1="536.0" y1="162.0" x2="536.0" y2="195.0" stroke="#cfcfcf" stroke-width="1.6"/>
<rect x="534.7" y="165.0" width="2.6" height="28.7" fill="#2895a3"/>
<line x1="539.8" y1="152.0" x2="539.8" y2="167.0" stroke="#cfcfcf" stroke-width="1.6"/>
<rect x="538.5" y="158.5" width="2.6" height="6.2" fill="#2895a3"/>
<line x1="543.6" y1="135.0" x2="543.6" y2="159.4" stroke="#cfcfcf" stroke-width="1.6"/>
<rect x="542.3" y="135.8" width="2.6" height="21.7" fill="#2895a3"/>
<line x1="547.3" y1="137.7" x2="547.3" y2="139.6" stroke="#cfcfcf" stroke-width="1.6"/>
<rect x="546.0" y="137.7" width="2.6" height="1.9" fill="#d2565d"/>
<line x1="551.0" y1="134.3" x2="551.0" y2="149.0" stroke="#cfcfcf" stroke-width="1.6"/>
<rect x="549.7" y="139.6" width="2.6" height="1.4" fill="#d2565d"/>
<line x1="554.5" y1="123.6" x2="554.5" y2="142.4" stroke="#cfcfcf" stroke-width="1.6"/>
<rect x="553.2" y="124.5" width="2.6" height="17.0" fill="#2895a3"/>
<line x1="558.2" y1="122.7" x2="558.2" y2="141.5" stroke="#cfcfcf" stroke-width="1.6"/>
<rect x="556.9" y="124.5" width="2.6" height="16.0" fill="#d2565d"/>
<line x1="562.0" y1="122.7" x2="562.0" y2="141.5" stroke="#cfcfcf" stroke-width="1.6"/>
<rect x="560.7" y="124.5" width="2.6" height="16.0" fill="#2895a3"/>
<line x1="565.8" y1="116.0" x2="565.8" y2="128.3" stroke="#cfcfcf" stroke-width="1.6"/>
<rect x="564.5" y="117.0" width="2.6" height="6.6" fill="#2895a3"/>
<line x1="569.5" y1="118.0" x2="569.5" y2="119.3" stroke="#cfcfcf" stroke-width="1.6"/>
<rect x="568.2" y="118.0" width="2.6" height="1.3" fill="#d2565d"/>
<line x1="573.0" y1="107.6" x2="573.0" y2="122.7" stroke="#cfcfcf" stroke-width="1.6"/>
<rect x="571.7" y="108.5" width="2.6" height="11.3" fill="#2895a3"/>
<line x1="576.7" y1="93.5" x2="576.7" y2="109.5" stroke="#cfcfcf" stroke-width="1.6"/>
<rect x="575.4" y="95.4" width="2.6" height="13.1" fill="#2895a3"/>
<line x1="580.5" y1="93.5" x2="580.5" y2="101.6" stroke="#cfcfcf" stroke-width="1.6"/>
<rect x="579.2" y="96.3" width="2.6" height="4.7" fill="#d2565d"/>
<line x1="584.2" y1="97.2" x2="584.2" y2="119.0" stroke="#cfcfcf" stroke-width="1.6"/>
<rect x="582.9" y="101.0" width="2.6" height="15.6" fill="#d2565d"/>
<line x1="588.0" y1="113.2" x2="588.0" y2="127.4" stroke="#cfcfcf" stroke-width="1.6"/>
<rect x="586.7" y="117.0" width="2.6" height="2.3" fill="#d2565d"/>
<line x1="591.2" y1="118.0" x2="591.2" y2="119.0" stroke="#cfcfcf" stroke-width="1.6"/>
<rect x="589.9" y="118.0" width="2.6" height="1.2" fill="#d2565d"/>
<line x1="595.0" y1="106.7" x2="595.0" y2="119.8" stroke="#cfcfcf" stroke-width="1.6"/>
<rect x="593.7" y="107.6" width="2.6" height="10.9" fill="#2895a3"/>
<line x1="598.7" y1="103.8" x2="598.7" y2="121.7" stroke="#cfcfcf" stroke-width="1.6"/>
<rect x="597.4" y="107.6" width="2.6" height="13.2" fill="#d2565d"/>
<line x1="602.0" y1="119.8" x2="602.0" y2="141.5" stroke="#cfcfcf" stroke-width="1.6"/>
<rect x="600.7" y="121.7" width="2.6" height="13.2" fill="#d2565d"/>
<line x1="605.9" y1="122.7" x2="605.9" y2="141.5" stroke="#cfcfcf" stroke-width="1.6"/>
<rect x="604.6" y="128.3" width="2.6" height="6.6" fill="#2895a3"/>
<line x1="610.0" y1="122.7" x2="610.0" y2="135.8" stroke="#cfcfcf" stroke-width="1.6"/>
<rect x="608.7" y="128.7" width="2.6" height="3.3" fill="#d2565d"/>
<line x1="613.4" y1="130.2" x2="613.4" y2="132.3" stroke="#cfcfcf" stroke-width="1.6"/>
<rect x="612.1" y="131.0" width="2.6" height="1.3" fill="#d2565d"/>
<line x1="617.2" y1="130.0" x2="617.2" y2="151.7" stroke="#cfcfcf" stroke-width="1.6"/>
<rect x="615.9" y="131.0" width="2.6" height="19.8" fill="#d2565d"/>
<line x1="621.0" y1="136.7" x2="621.0" y2="160.2" stroke="#cfcfcf" stroke-width="1.6"/>
<rect x="619.7" y="149.8" width="2.6" height="3.8" fill="#d2565d"/>
<line x1="624.7" y1="141.4" x2="624.7" y2="160.2" stroke="#cfcfcf" stroke-width="1.6"/>
<rect x="623.4" y="143.2" width="2.6" height="14.2" fill="#2895a3"/>
<line x1="628.3" y1="139.5" x2="628.3" y2="158.3" stroke="#cfcfcf" stroke-width="1.6"/>
<rect x="627.0" y="142.9" width="2.6" height="14.5" fill="#d2565d"/>
<line x1="632.0" y1="157.0" x2="632.0" y2="162.0" stroke="#cfcfcf" stroke-width="1.6"/>
<rect x="630.7" y="157.4" width="2.6" height="4.3" fill="#d2565d"/>
<line x1="635.8" y1="152.6" x2="635.8" y2="165.8" stroke="#cfcfcf" stroke-width="1.6"/>
<rect x="634.5" y="154.5" width="2.6" height="7.2" fill="#2895a3"/>
<line x1="639.2" y1="136.7" x2="639.2" y2="156.4" stroke="#cfcfcf" stroke-width="1.6"/>
<rect x="637.9" y="142.3" width="2.6" height="12.2" fill="#2895a3"/>
<line x1="643.0" y1="132.0" x2="643.0" y2="143.2" stroke="#cfcfcf" stroke-width="1.6"/>
<rect x="641.7" y="135.7" width="2.6" height="6.6" fill="#2895a3"/>
<line x1="647.0" y1="125.4" x2="647.0" y2="159.2" stroke="#cfcfcf" stroke-width="1.6"/>
<rect x="645.7" y="136.7" width="2.6" height="21.6" fill="#d2565d"/>
<line x1="650.1" y1="157.4" x2="650.1" y2="193.1" stroke="#cfcfcf" stroke-width="1.6"/>
<rect x="648.8" y="158.3" width="2.6" height="34.1" fill="#d2565d"/>
<line x1="653.8" y1="191.0" x2="653.8" y2="192.6" stroke="#cfcfcf" stroke-width="1.6"/>
<rect x="652.5" y="191.0" width="2.6" height="1.6" fill="#2895a3"/>
<line x1="657.8" y1="181.3" x2="657.8" y2="207.7" stroke="#cfcfcf" stroke-width="1.6"/>
<rect x="656.5" y="182.8" width="2.6" height="7.9" fill="#2895a3"/>
<line x1="661.4" y1="180.4" x2="661.4" y2="223.7" stroke="#cfcfcf" stroke-width="1.6"/>
<rect x="660.1" y="182.8" width="2.6" height="33.2" fill="#d2565d"/>
<line x1="665.1" y1="197.3" x2="665.1" y2="218.0" stroke="#cfcfcf" stroke-width="1.6"/>
<rect x="663.8" y="203.9" width="2.6" height="12.1" fill="#2895a3"/>
<line x1="668.9" y1="179.4" x2="668.9" y2="210.5" stroke="#cfcfcf" stroke-width="1.6"/>
<rect x="667.6" y="194.9" width="2.6" height="9.0" fill="#2895a3"/>
<line x1="672.5" y1="186.0" x2="672.5" y2="228.4" stroke="#cfcfcf" stroke-width="1.6"/>
<rect x="671.2" y="194.9" width="2.6" height="27.8" fill="#d2565d"/>
<line x1="676.0" y1="221.5" x2="676.0" y2="228.0" stroke="#cfcfcf" stroke-width="1.6"/>
<rect x="674.7" y="223.0" width="2.6" height="1.6" fill="#d2565d"/>
<line x1="679.8" y1="216.0" x2="679.8" y2="244.4" stroke="#cfcfcf" stroke-width="1.6"/>
<rect x="678.5" y="222.3" width="2.6" height="1.5" fill="#2895a3"/>
<line x1="683.6" y1="208.6" x2="683.6" y2="225.5" stroke="#cfcfcf" stroke-width="1.6"/>
<rect x="682.3" y="214.2" width="2.6" height="8.1" fill="#2895a3"/>
<line x1="687.4" y1="179.4" x2="687.4" y2="215.2" stroke="#cfcfcf" stroke-width="1.6"/>
<rect x="686.1" y="183.6" width="2.6" height="30.6" fill="#2895a3"/>
<line x1="690.8" y1="180.4" x2="690.8" y2="233.0" stroke="#cfcfcf" stroke-width="1.6"/>
<rect x="689.5" y="183.6" width="2.6" height="38.2" fill="#d2565d"/>
<line x1="694.5" y1="219.0" x2="694.5" y2="243.4" stroke="#cfcfcf" stroke-width="1.6"/>
<rect x="693.2" y="220.8" width="2.6" height="11.3" fill="#d2565d"/>
<line x1="698.3" y1="234.6" x2="698.3" y2="236.0" stroke="#cfcfcf" stroke-width="1.6"/>
<rect x="697.0" y="234.6" width="2.6" height="1.4" fill="#2895a3"/>
<line x1="702.0" y1="233.5" x2="702.0" y2="266.4" stroke="#cfcfcf" stroke-width="1.6"/>
<rect x="700.7" y="234.8" width="2.6" height="25.0" fill="#d2565d"/>
<line x1="705.7" y1="242.0" x2="705.7" y2="272.0" stroke="#cfcfcf" stroke-width="1.6"/>
<rect x="704.4" y="259.5" width="2.6" height="1.7" fill="#d2565d"/>
<line x1="709.1" y1="246.7" x2="709.1" y2="279.6" stroke="#cfcfcf" stroke-width="1.6"/>
<rect x="707.8" y="260.8" width="2.6" height="15.0" fill="#d2565d"/>
<line x1="712.9" y1="270.0" x2="712.9" y2="298.4" stroke="#cfcfcf" stroke-width="1.6"/>
<rect x="711.6" y="275.8" width="2.6" height="4.7" fill="#d2565d"/>
<line x1="716.7" y1="250.4" x2="716.7" y2="281.5" stroke="#cfcfcf" stroke-width="1.6"/>
<rect x="715.4" y="257.0" width="2.6" height="23.5" fill="#2895a3"/>
<line x1="720.4" y1="249.5" x2="720.4" y2="255.0" stroke="#cfcfcf" stroke-width="1.6"/>
<rect x="719.1" y="251.0" width="2.6" height="3.2" fill="#2895a3"/>
<line x1="724.2" y1="248.5" x2="724.2" y2="265.5" stroke="#cfcfcf" stroke-width="1.6"/>
<rect x="722.9" y="251.0" width="2.6" height="7.9" fill="#d2565d"/>
<line x1="728.0" y1="235.4" x2="728.0" y2="259.8" stroke="#cfcfcf" stroke-width="1.6"/>
<rect x="726.7" y="236.7" width="2.6" height="22.2" fill="#2895a3"/>
<line x1="731.3" y1="235.4" x2="731.3" y2="285.3" stroke="#cfcfcf" stroke-width="1.6"/>
<rect x="730.0" y="236.7" width="2.6" height="45.7" fill="#d2565d"/>
<line x1="735.1" y1="274.9" x2="735.1" y2="298.4" stroke="#cfcfcf" stroke-width="1.6"/>
<rect x="733.8" y="282.4" width="2.6" height="3.8" fill="#d2565d"/>
<line x1="738.9" y1="274.0" x2="738.9" y2="310.5" stroke="#cfcfcf" stroke-width="1.6"/>
<rect x="737.6" y="286.2" width="2.6" height="1.5" fill="#d2565d"/>
<line x1="742.1" y1="278.7" x2="742.1" y2="284.3" stroke="#cfcfcf" stroke-width="1.6"/>
<rect x="740.8" y="280.0" width="2.6" height="3.4" fill="#2895a3"/>
<line x1="745.8" y1="264.5" x2="745.8" y2="281.5" stroke="#cfcfcf" stroke-width="1.6"/>
<rect x="744.5" y="274.9" width="2.6" height="5.6" fill="#2895a3"/>
<line x1="749.6" y1="269.2" x2="749.6" y2="293.7" stroke="#cfcfcf" stroke-width="1.6"/>
<rect x="748.3" y="270.6" width="2.6" height="4.3" fill="#2895a3"/>
<line x1="753.4" y1="261.7" x2="753.4" y2="283.4" stroke="#cfcfcf" stroke-width="1.6"/>
<rect x="752.1" y="266.8" width="2.6" height="4.9" fill="#2895a3"/>
<line x1="757.1" y1="241.0" x2="757.1" y2="270.2" stroke="#cfcfcf" stroke-width="1.6"/>
<rect x="755.8" y="246.7" width="2.6" height="20.1" fill="#2895a3"/>
<line x1="761.0" y1="217.7" x2="761.0" y2="249.7" stroke="#cfcfcf" stroke-width="1.6"/>
<rect x="759.7" y="218.6" width="2.6" height="28.2" fill="#2895a3"/>
<line x1="764.4" y1="217.7" x2="764.4" y2="219.2" stroke="#cfcfcf" stroke-width="1.6"/>
<rect x="763.1" y="217.7" width="2.6" height="1.5" fill="#d2565d"/>
<line x1="768.2" y1="213.9" x2="768.2" y2="233.7" stroke="#cfcfcf" stroke-width="1.6"/>
<rect x="766.9" y="216.7" width="2.6" height="6.2" fill="#d2565d"/>
<line x1="772.0" y1="222.4" x2="772.0" y2="242.1" stroke="#cfcfcf" stroke-width="1.6"/>
<rect x="770.7" y="222.9" width="2.6" height="13.6" fill="#d2565d"/>
<line x1="775.5" y1="211.0" x2="775.5" y2="242.1" stroke="#cfcfcf" stroke-width="1.6"/>
<rect x="774.2" y="213.0" width="2.6" height="23.5" fill="#2895a3"/>
<line x1="779.3" y1="211.0" x2="779.3" y2="234.6" stroke="#cfcfcf" stroke-width="1.6"/>
<rect x="778.0" y="213.0" width="2.6" height="17.8" fill="#d2565d"/>
<line x1="782.7" y1="230.8" x2="782.7" y2="232.3" stroke="#cfcfcf" stroke-width="1.6"/>
<rect x="781.4" y="230.8" width="2.6" height="1.5" fill="#d2565d"/>
<line x1="786.4" y1="216.7" x2="786.4" y2="233.7" stroke="#cfcfcf" stroke-width="1.6"/>
<rect x="785.1" y="229.9" width="2.6" height="2.4" fill="#2895a3"/>
<line x1="790.2" y1="217.7" x2="790.2" y2="241.2" stroke="#cfcfcf" stroke-width="1.6"/>
<rect x="788.9" y="220.5" width="2.6" height="9.4" fill="#2895a3"/>
<line x1="794.0" y1="219.5" x2="794.0" y2="231.8" stroke="#cfcfcf" stroke-width="1.6"/>
<rect x="792.7" y="220.5" width="2.6" height="9.4" fill="#d2565d"/>
<line x1="798.1" y1="223.3" x2="798.1" y2="255.3" stroke="#cfcfcf" stroke-width="1.6"/>
<rect x="796.8" y="229.3" width="2.6" height="26.0" fill="#d2565d"/>
<line x1="801.1" y1="254.7" x2="801.1" y2="255.7" stroke="#cfcfcf" stroke-width="1.6"/>
<rect x="799.8" y="254.7" width="2.6" height="1.2" fill="#d2565d"/>
<line x1="891.4" y1="19" x2="891.4" y2="410.5" stroke="#a8a8a8" stroke-width="1"/>
<line x1="891.4" y1="63.4" x2="893.4" y2="63.4" stroke="#888" stroke-width="0.8"/>
<text x="894.5" y="65.2" font-size="5" fill="#555">4750</text>
<line x1="891.4" y1="129.3" x2="893.4" y2="129.3" stroke="#888" stroke-width="0.8"/>
<text x="894.5" y="131.1" font-size="5" fill="#555">4500</text>
<line x1="891.4" y1="195.2" x2="893.4" y2="195.2" stroke="#888" stroke-width="0.8"/>
<text x="894.5" y="197.0" font-size="5" fill="#555">4250</text>
<line x1="891.4" y1="261.4" x2="893.4" y2="261.4" stroke="#888" stroke-width="0.8"/>
<text x="894.5" y="263.2" font-size="5" fill="#555">4000</text>
<line x1="891.4" y1="327.2" x2="893.4" y2="327.2" stroke="#888" stroke-width="0.8"/>
<text x="894.5" y="329.0" font-size="5" fill="#555">3750</text>
<path d="M892,144.1 L895.2,140.2 L916,140.2 L916,148.0 L895.2,148.0 Z" fill="#ff3d3d"/>
<text x="898.2" y="145.9" font-size="5" font-weight="bold" fill="#3a1010">4444.14</text>
<path d="M892,224.0 L895.2,220.1 L916,220.1 L916,227.9 L895.2,227.9 Z" fill="#1c6fdc"/>
<text x="898.2" y="225.8" font-size="5" font-weight="bold" fill="#fff">4141.72</text>
<path d="M892,255.8 L895.2,251.9 L916,251.9 L916,259.7 L895.2,259.7 Z" fill="#6b5fc3"/>
<text x="898.2" y="257.6" font-size="5" font-weight="bold" fill="#fff">4021.82</text>
<line x1="318.5" y1="42.4" x2="347.8" y2="33.2" stroke="#fd7d25" stroke-width="3.1" stroke-linecap="round"/>
<text x="353.4" y="33.8" font-size="11" fill="#3d3d3d" textLength="75.4" lengthAdjust="spacingAndGlyphs">RECORDS HIGHS</text>
<line x1="483.3" y1="103.2" x2="502.2" y2="92.3" stroke="#fd7d25" stroke-width="3.1" stroke-linecap="round"/>
<text x="489.6" y="84.2" font-size="10" fill="#3d3d3d" textLength="63.4" lengthAdjust="spacingAndGlyphs">DEATH CROSS</text>
<ellipse cx="480.1" cy="125.5" rx="11.9" ry="15.7" fill="none" stroke="#fd7d25" stroke-width="3.5"/>
<line x1="616" y1="88.6" x2="631.5" y2="81.2" stroke="#fdb386" stroke-width="2.7" stroke-linecap="round"/>
<text x="633.8" y="81.5" font-size="10.2" fill="#3d3d3d" textLength="58.3" lengthAdjust="spacingAndGlyphs">FALSE BREAK</text>
<rect x="541.5" y="92.1" width="72.6" height="31.2" rx="10.5" ry="10.5" fill="none" stroke="#fdb386" stroke-width="3.1"/>
<rect x="335.5" y="168.6" width="510" height="6.4" fill="#fd7d25"/>
<path d="M775.7,188.5 L780.3,188.5 L780.3,198.8 L782.8,198.8 L778.0,206.4 L773.2,198.8 L775.7,198.8 Z" fill="#e8262a"/>
<path d="M785.1,195 L789.7,195 L789.7,204.5 L792.2,204.5 L787.4,213 L782.6,204.5 L785.1,204.5 Z" fill="#e8262a"/>
<path d="M796.4,200.3 L801.0,200.3 L801.0,210 L803.5,210 L798.7,218.6 L793.9,210 L796.4,210 Z" fill="#e8262a"/>
<path d="M702,292 Q713.2,319 724.4,290.5" fill="none" stroke="#2a9eab" stroke-width="3.3" stroke-linecap="round"/>
<path d="M726.2,305 Q738.5,332 751,303" fill="none" stroke="#2a9eab" stroke-width="3.3" stroke-linecap="round"/>
<rect x="799.6" y="286.4" width="61.2" height="23.1" fill="none" stroke="#8dcbd4" stroke-width="2.8"/>
<path d="M806.3,253.6 C812.5,256.5 819.6,265 819.3,281.9 L823,281.9 L816.4,293.1 L811.6,281.9 L815.9,281.9 C815.6,268 811.5,258.5 806.3,253.6 Z" fill="#d00808" stroke="#1a1a1a" stroke-width="0.55" stroke-linejoin="round"/>
<path d="M831.6,298.3 C841,291 844.6,273 844.6,246 L839.1,246 L845.8,224.4 L855,246 L850.6,246 C850.6,273 844,293 831.6,298.3 Z" fill="#22c740" stroke="#1a1a1a" stroke-width="0.55" stroke-linejoin="round"/>
<text x="859.4" y="38" font-size="10.5" font-weight="bold" fill="#111" textLength="23.4" lengthAdjust="spacingAndGlyphs">4800</text>
<text x="859.3" y="175.2" font-size="10.5" font-weight="bold" fill="#111" textLength="23.4" lengthAdjust="spacingAndGlyphs">4300</text>
<text x="859.9" y="220.7" font-size="10.5" font-weight="bold" fill="#111" textLength="23.4" lengthAdjust="spacingAndGlyphs">4150</text>
<text x="859.9" y="276" font-size="10.5" font-weight="bold" fill="#111" textLength="23.4" lengthAdjust="spacingAndGlyphs">4000</text>
<text x="861" y="320.9" font-size="10.5" font-weight="bold" fill="#111" textLength="23.4" lengthAdjust="spacingAndGlyphs">3800</text>
<rect x="0" y="320" width="56" height="12" fill="#fff"/>
<text x="4.3" y="327.9" font-size="5.6" font-weight="bold" fill="#333" textLength="7.6" lengthAdjust="spacingAndGlyphs">MA</text>
<text x="14.1" y="327.9" font-size="5.6" fill="#4a90d9" textLength="5.0" lengthAdjust="spacingAndGlyphs">50</text>
<text x="20.9" y="327.9" font-size="5.6" fill="#4cbf4c" textLength="5.3" lengthAdjust="spacingAndGlyphs">50</text>
<text x="28" y="327.9" font-size="5.6" fill="#f04a4a" textLength="8.2" lengthAdjust="spacingAndGlyphs">200</text>
<circle cx="41.8" cy="326.4" r="1.8" fill="none" stroke="#666" stroke-width="1.3" stroke-dasharray="0.9,0.5"/><circle cx="41.8" cy="326.4" r="1.2" fill="none" stroke="#666" stroke-width="0.8"/>
<path d="M47.9,324.4 L51.9,328.4 M51.9,324.4 L47.9,328.4" stroke="#666" stroke-width="0.9"/>
<text x="4.3" y="342.5" font-size="5.2" fill="#aaa" textLength="17.6" lengthAdjust="spacingAndGlyphs">TODAY:</text>
<text x="29.5" y="342.5" font-size="5.2" fill="#aaa" textLength="4.2" lengthAdjust="spacingAndGlyphs">H:</text>
<text x="36.6" y="342.5" font-size="5.2" fill="#444" textLength="17.8" lengthAdjust="spacingAndGlyphs">4030.07</text>
<text x="58.5" y="342.5" font-size="5.2" fill="#aaa" textLength="3.2" lengthAdjust="spacingAndGlyphs">L:</text>
<text x="64" y="342.5" font-size="5.2" fill="#444" textLength="18" lengthAdjust="spacingAndGlyphs">4008.82</text>
<text x="88.2" y="342.5" font-size="5.2" fill="#48aab6" textLength="9.6" lengthAdjust="spacingAndGlyphs">5.64</text>
<text x="112" y="342.5" font-size="5.2" fill="#48aab6" textLength="10.3" lengthAdjust="spacingAndGlyphs">0.1%</text>
<text x="4.3" y="349.2" font-size="5.2" fill="#aaa" textLength="17.6" lengthAdjust="spacingAndGlyphs">CHART:</text>
<text x="29.5" y="349.2" font-size="5.2" fill="#aaa" textLength="4.2" lengthAdjust="spacingAndGlyphs">H:</text>
<text x="36.6" y="349.2" font-size="5.2" fill="#444" textLength="17.8" lengthAdjust="spacingAndGlyphs">4817.71</text>
<text x="58.5" y="349.2" font-size="5.2" fill="#aaa" textLength="3.2" lengthAdjust="spacingAndGlyphs">L:</text>
<text x="64" y="349.2" font-size="5.2" fill="#444" textLength="18" lengthAdjust="spacingAndGlyphs">3810.57</text>
<text x="88.2" y="349.2" font-size="5.2" fill="#dc5f68" textLength="17.3" lengthAdjust="spacingAndGlyphs">-431.03</text>
<text x="112" y="349.2" font-size="5.2" fill="#dc5f68" textLength="12.1" lengthAdjust="spacingAndGlyphs">-9.7%</text>
<line x1="0" y1="355.4" x2="891.4" y2="355.4" stroke="#a8a8a8" stroke-width="1"/>
<line x1="0" y1="369.3" x2="891.4" y2="369.3" stroke="#e2e2e2" stroke-width="1"/>
<line x1="0" y1="380.4" x2="891.4" y2="380.4" stroke="#e2e2e2" stroke-width="1"/>
<line x1="0" y1="391.4" x2="891.4" y2="391.4" stroke="#e2e2e2" stroke-width="1"/>
<defs><clipPath id="cu"><rect x="0" y="355" width="916" height="14.3"/></clipPath><clipPath id="cd"><rect x="0" y="391.4" width="916" height="30"/></clipPath></defs>
<path d="M0.0,378.3 L2.4,376.1 L5.9,377.7 L9.9,390.9 L13.2,391.5 L17.1,394.8 L20.4,392.8 L24.4,386.9 L27.9,393.5 L31.6,390.2 L35.6,386.9 L38.9,376.4 L43.5,379.0 L49.4,381.6 L53.7,386.9 L57.3,383.0 L60.6,364.5 L64.5,357.5 L72.4,365.2 L75.7,363.2 L79.0,364.1 L85.6,367.1 L90.9,369.8 L98.1,368.1 L102.1,371.5 L108.0,369.4 L112.6,365.8 L116.6,367.8 L119.6,367.8 L123.6,363.9 L127.5,362.1 L131.5,362.5 L134.8,365.6 L138.0,367.1 L142.0,370.4 L146.0,376.4 L149.2,377.0 L156.5,371.8 L160.4,373.7 L164.4,371.5 L168.3,373.5 L171.6,372.4 L175.6,369.1 L182.2,371.1 L186.8,385.6 L189.8,373.7 L193.8,407.3 L201.3,388.9 L204.6,398.8 L208.5,401.4 L212.5,397.4 L220.4,390.9 L223.7,386.9 L227.0,376.4 L230.9,371.1 L234.6,372.4 L241.2,368.1 L244.5,371.1 L249.1,378.3 L253.1,373.5 L256.3,373.5 L260.3,381.0 L267.5,390.9 L278.1,368.9 L281.4,368.5 L286.0,363.6 L289.3,362.3 L294.5,366.5 L300.5,371.5 L304.4,371.8 L307.7,372.4 L311.7,372.4 L315.6,379.7 L324.8,391.5 L330.1,396.5 L337.3,383.0 L344.6,391.5 L348.3,388.2 L352.2,388.2 L355.5,394.8 L359.5,402.1 L366.1,405.3 L370.7,399.2 L374.6,398.1 L381.2,391.3 L385.2,390.9 L391.1,386.2 L396.4,380.3 L399.7,375.7 L403.6,372.2 L410.9,375.3 L414.8,373.3 L418.8,374.1 L422.7,372.8 L425.6,368.9 L429.3,375.0 L432.6,383.6 L440.5,392.8 L443.8,388.2 L447.7,386.0 L451.7,392.2 L458.3,398.1 L462.6,396.8 L466.3,393.5 L469.9,396.1 L473.2,396.8 L477.1,385.6 L481.1,389.1 L485.0,382.3 L488.3,382.6 L495.6,374.8 L499.5,382.3 L506.1,395.5 L510.7,398.1 L514.0,388.2 L518.6,386.2 L521.9,386.5 L528.5,392.2 L532.4,387.6 L535.7,374.4 L543.6,363.2 L547.6,363.9 L551.5,365.8 L554.2,365.4 L558.8,368.9 L565.4,368.9 L571.3,370.2 L577.6,367.4 L580.9,368.5 L588.2,376.1 L591.5,376.1 L595.0,373.3 L599.4,378.3 L602.7,390.2 L606.6,390.9 L609.9,389.5 L613.9,391.5 L617.1,399.7 L621.1,397.8 L624.4,393.5 L628.3,393.5 L631.9,395.5 L636.2,391.5 L642.8,380.3 L646.8,385.6 L650.7,402.7 L654.0,404.7 L657.7,398.4 L661.3,399.4 L668.5,389.9 L672.5,392.6 L676.4,394.2 L680.4,392.8 L687.6,382.3 L690.0,385.6 L694.6,391.5 L697.9,393.5 L701.9,399.7 L707.1,397.8 L713.0,398.8 L717.7,390.2 L721.0,386.2 L724.2,386.5 L727.5,381.6 L731.5,389.5 L735.4,393.9 L738.7,393.9 L746.0,386.5 L749.9,387.3 L753.9,381.0 L757.2,369.8 L761.1,360.2 L764.4,360.6 L771.7,371.1 L775.6,369.1 L782.9,374.1 L786.8,373.3 L794.1,375.4 L801.3,388.6 L801.3,369.3 L0.0,369.3 Z" fill="#b0b0b0" clip-path="url(#cu)"/>
<path d="M0.0,378.3 L2.4,376.1 L5.9,377.7 L9.9,390.9 L13.2,391.5 L17.1,394.8 L20.4,392.8 L24.4,386.9 L27.9,393.5 L31.6,390.2 L35.6,386.9 L38.9,376.4 L43.5,379.0 L49.4,381.6 L53.7,386.9 L57.3,383.0 L60.6,364.5 L64.5,357.5 L72.4,365.2 L75.7,363.2 L79.0,364.1 L85.6,367.1 L90.9,369.8 L98.1,368.1 L102.1,371.5 L108.0,369.4 L112.6,365.8 L116.6,367.8 L119.6,367.8 L123.6,363.9 L127.5,362.1 L131.5,362.5 L134.8,365.6 L138.0,367.1 L142.0,370.4 L146.0,376.4 L149.2,377.0 L156.5,371.8 L160.4,373.7 L164.4,371.5 L168.3,373.5 L171.6,372.4 L175.6,369.1 L182.2,371.1 L186.8,385.6 L189.8,373.7 L193.8,407.3 L201.3,388.9 L204.6,398.8 L208.5,401.4 L212.5,397.4 L220.4,390.9 L223.7,386.9 L227.0,376.4 L230.9,371.1 L234.6,372.4 L241.2,368.1 L244.5,371.1 L249.1,378.3 L253.1,373.5 L256.3,373.5 L260.3,381.0 L267.5,390.9 L278.1,368.9 L281.4,368.5 L286.0,363.6 L289.3,362.3 L294.5,366.5 L300.5,371.5 L304.4,371.8 L307.7,372.4 L311.7,372.4 L315.6,379.7 L324.8,391.5 L330.1,396.5 L337.3,383.0 L344.6,391.5 L348.3,388.2 L352.2,388.2 L355.5,394.8 L359.5,402.1 L366.1,405.3 L370.7,399.2 L374.6,398.1 L381.2,391.3 L385.2,390.9 L391.1,386.2 L396.4,380.3 L399.7,375.7 L403.6,372.2 L410.9,375.3 L414.8,373.3 L418.8,374.1 L422.7,372.8 L425.6,368.9 L429.3,375.0 L432.6,383.6 L440.5,392.8 L443.8,388.2 L447.7,386.0 L451.7,392.2 L458.3,398.1 L462.6,396.8 L466.3,393.5 L469.9,396.1 L473.2,396.8 L477.1,385.6 L481.1,389.1 L485.0,382.3 L488.3,382.6 L495.6,374.8 L499.5,382.3 L506.1,395.5 L510.7,398.1 L514.0,388.2 L518.6,386.2 L521.9,386.5 L528.5,392.2 L532.4,387.6 L535.7,374.4 L543.6,363.2 L547.6,363.9 L551.5,365.8 L554.2,365.4 L558.8,368.9 L565.4,368.9 L571.3,370.2 L577.6,367.4 L580.9,368.5 L588.2,376.1 L591.5,376.1 L595.0,373.3 L599.4,378.3 L602.7,390.2 L606.6,390.9 L609.9,389.5 L613.9,391.5 L617.1,399.7 L621.1,397.8 L624.4,393.5 L628.3,393.5 L631.9,395.5 L636.2,391.5 L642.8,380.3 L646.8,385.6 L650.7,402.7 L654.0,404.7 L657.7,398.4 L661.3,399.4 L668.5,389.9 L672.5,392.6 L676.4,394.2 L680.4,392.8 L687.6,382.3 L690.0,385.6 L694.6,391.5 L697.9,393.5 L701.9,399.7 L707.1,397.8 L713.0,398.8 L717.7,390.2 L721.0,386.2 L724.2,386.5 L727.5,381.6 L731.5,389.5 L735.4,393.9 L738.7,393.9 L746.0,386.5 L749.9,387.3 L753.9,381.0 L757.2,369.8 L761.1,360.2 L764.4,360.6 L771.7,371.1 L775.6,369.1 L782.9,374.1 L786.8,373.3 L794.1,375.4 L801.3,388.6 L801.3,391.4 L0.0,391.4 Z" fill="#b0b0b0" clip-path="url(#cd)"/>
<path d="M0.0,378.3 L2.4,376.1 L5.9,377.7 L9.9,390.9 L13.2,391.5 L17.1,394.8 L20.4,392.8 L24.4,386.9 L27.9,393.5 L31.6,390.2 L35.6,386.9 L38.9,376.4 L43.5,379.0 L49.4,381.6 L53.7,386.9 L57.3,383.0 L60.6,364.5 L64.5,357.5 L72.4,365.2 L75.7,363.2 L79.0,364.1 L85.6,367.1 L90.9,369.8 L98.1,368.1 L102.1,371.5 L108.0,369.4 L112.6,365.8 L116.6,367.8 L119.6,367.8 L123.6,363.9 L127.5,362.1 L131.5,362.5 L134.8,365.6 L138.0,367.1 L142.0,370.4 L146.0,376.4 L149.2,377.0 L156.5,371.8 L160.4,373.7 L164.4,371.5 L168.3,373.5 L171.6,372.4 L175.6,369.1 L182.2,371.1 L186.8,385.6 L189.8,373.7 L193.8,407.3 L201.3,388.9 L204.6,398.8 L208.5,401.4 L212.5,397.4 L220.4,390.9 L223.7,386.9 L227.0,376.4 L230.9,371.1 L234.6,372.4 L241.2,368.1 L244.5,371.1 L249.1,378.3 L253.1,373.5 L256.3,373.5 L260.3,381.0 L267.5,390.9 L278.1,368.9 L281.4,368.5 L286.0,363.6 L289.3,362.3 L294.5,366.5 L300.5,371.5 L304.4,371.8 L307.7,372.4 L311.7,372.4 L315.6,379.7 L324.8,391.5 L330.1,396.5 L337.3,383.0 L344.6,391.5 L348.3,388.2 L352.2,388.2 L355.5,394.8 L359.5,402.1 L366.1,405.3 L370.7,399.2 L374.6,398.1 L381.2,391.3 L385.2,390.9 L391.1,386.2 L396.4,380.3 L399.7,375.7 L403.6,372.2 L410.9,375.3 L414.8,373.3 L418.8,374.1 L422.7,372.8 L425.6,368.9 L429.3,375.0 L432.6,383.6 L440.5,392.8 L443.8,388.2 L447.7,386.0 L451.7,392.2 L458.3,398.1 L462.6,396.8 L466.3,393.5 L469.9,396.1 L473.2,396.8 L477.1,385.6 L481.1,389.1 L485.0,382.3 L488.3,382.6 L495.6,374.8 L499.5,382.3 L506.1,395.5 L510.7,398.1 L514.0,388.2 L518.6,386.2 L521.9,386.5 L528.5,392.2 L532.4,387.6 L535.7,374.4 L543.6,363.2 L547.6,363.9 L551.5,365.8 L554.2,365.4 L558.8,368.9 L565.4,368.9 L571.3,370.2 L577.6,367.4 L580.9,368.5 L588.2,376.1 L591.5,376.1 L595.0,373.3 L599.4,378.3 L602.7,390.2 L606.6,390.9 L609.9,389.5 L613.9,391.5 L617.1,399.7 L621.1,397.8 L624.4,393.5 L628.3,393.5 L631.9,395.5 L636.2,391.5 L642.8,380.3 L646.8,385.6 L650.7,402.7 L654.0,404.7 L657.7,398.4 L661.3,399.4 L668.5,389.9 L672.5,392.6 L676.4,394.2 L680.4,392.8 L687.6,382.3 L690.0,385.6 L694.6,391.5 L697.9,393.5 L701.9,399.7 L707.1,397.8 L713.0,398.8 L717.7,390.2 L721.0,386.2 L724.2,386.5 L727.5,381.6 L731.5,389.5 L735.4,393.9 L738.7,393.9 L746.0,386.5 L749.9,387.3 L753.9,381.0 L757.2,369.8 L761.1,360.2 L764.4,360.6 L771.7,371.1 L775.6,369.1 L782.9,374.1 L786.8,373.3 L794.1,375.4 L801.3,388.6" fill="none" stroke="#4a4a4a" stroke-width="1"/>
<rect x="0" y="361" width="37" height="10" fill="#fff"/>
<text x="4.3" y="367.7" font-size="5.6" font-weight="bold" fill="#444" textLength="7.9" lengthAdjust="spacingAndGlyphs">CCI</text>
<text x="13.4" y="367.7" font-size="5.6" fill="#666" textLength="5.7" lengthAdjust="spacingAndGlyphs">15</text>
<circle cx="24.9" cy="365.9" r="1.8" fill="none" stroke="#666" stroke-width="1.3" stroke-dasharray="0.9,0.5"/><circle cx="24.9" cy="365.9" r="1.2" fill="none" stroke="#666" stroke-width="0.8"/>
<path d="M31.1,363.9 L35.1,367.9 M35.1,363.9 L31.1,367.9" stroke="#666" stroke-width="0.9"/>
<line x1="891.4" y1="369.3" x2="893.4" y2="369.3" stroke="#888" stroke-width="0.8"/>
<text x="894.5" y="371.2" font-size="5" fill="#555">100</text>
<path d="M892,389.1 L895.4,385.3 L912.6,385.3 Q914,385.3 914,386.7 L914,391.5 Q914,392.9 912.6,392.9 L895.4,392.9 Z" fill="#111"/>
<text x="897.6" y="391" font-size="5" font-weight="bold" fill="#fff">-76.93</text>
<line x1="690" y1="379" x2="758.2" y2="357.6" stroke="#e8141e" stroke-width="2.9" stroke-linecap="round"/>
<line x1="0" y1="410.4" x2="891.4" y2="410.4" stroke="#a8a8a8" stroke-width="1"/>
<line x1="116.2" y1="410.4" x2="116.2" y2="412.4" stroke="#888" stroke-width="0.8"/>
<text x="116.2" y="417.8" font-size="6.2" fill="#555" text-anchor="middle">Nov</text>
<line x1="208.4" y1="410.4" x2="208.4" y2="412.4" stroke="#888" stroke-width="0.8"/>
<text x="208.4" y="417.8" font-size="6.2" fill="#555" text-anchor="middle">Dec</text>
<line x1="302.3" y1="410.4" x2="302.3" y2="412.4" stroke="#888" stroke-width="0.8"/>
<text x="302.3" y="417.8" font-size="6.2" fill="#555" text-anchor="middle">2022</text>
<line x1="400" y1="410.4" x2="400" y2="412.4" stroke="#888" stroke-width="0.8"/>
<text x="400" y="417.8" font-size="6.2" fill="#555" text-anchor="middle">Feb</text>
<line x1="488.1" y1="410.4" x2="488.1" y2="412.4" stroke="#888" stroke-width="0.8"/>
<text x="488.1" y="417.8" font-size="6.2" fill="#555" text-anchor="middle">Mar</text>
<line x1="587.5" y1="410.4" x2="587.5" y2="412.4" stroke="#888" stroke-width="0.8"/>
<text x="587.5" y="417.8" font-size="6.2" fill="#555" text-anchor="middle">Apr</text>
<line x1="676.2" y1="410.4" x2="676.2" y2="412.4" stroke="#888" stroke-width="0.8"/>
<text x="676.2" y="417.8" font-size="6.2" fill="#555" text-anchor="middle">May</text>
<line x1="771.9" y1="410.4" x2="771.9" y2="412.4" stroke="#888" stroke-width="0.8"/>
<text x="771.9" y="417.8" font-size="6.2" fill="#555" text-anchor="middle">Jun</text>
<line x1="878.5" y1="410.4" x2="878.5" y2="412.4" stroke="#888" stroke-width="0.8"/>
<text x="878.5" y="417.8" font-size="6.2" fill="#555" text-anchor="middle">Jul</text>
<text x="-8.6" y="417.8" font-size="6.2" fill="#5a5a5a">Sept</text>
</svg></body></html>
